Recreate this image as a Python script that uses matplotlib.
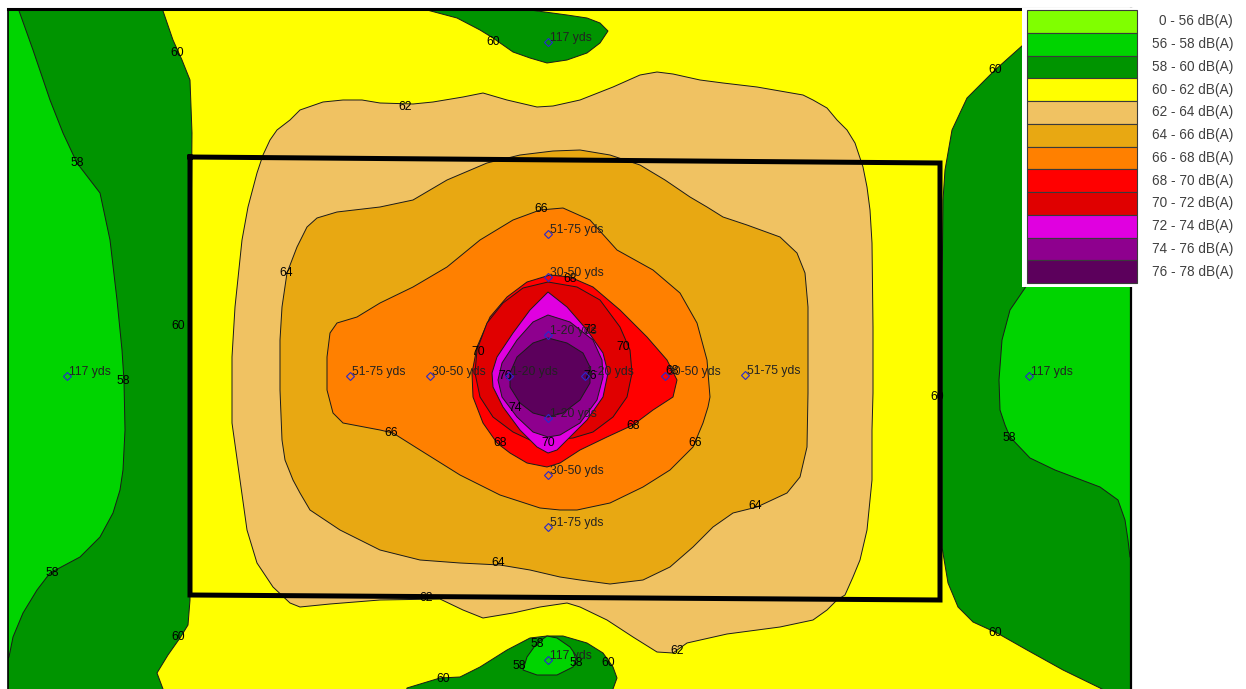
import matplotlib
matplotlib.use("Agg")
import matplotlib.pyplot as plt
from matplotlib.patches import Polygon

# noise bands (legend)
band_labels = ['0 - 56 dB(A)', '56 - 58 dB(A)', '58 - 60 dB(A)', '60 - 62 dB(A)',
               '62 - 64 dB(A)', '64 - 66 dB(A)', '66 - 68 dB(A)', '68 - 70 dB(A)',
               '70 - 72 dB(A)', '72 - 74 dB(A)', '74 - 76 dB(A)', '76 - 78 dB(A)']
band_colors = ['#80FF00', '#00D400', '#009400', '#FFFF00', '#F0C262', '#E8A812',
               '#FF8000', '#FF0000', '#E00000', '#E000E0', '#8E008E', '#5C005C']

# isolines (plan units, x right / y down)
iso60_left = [(150, -20), (162, 8), (173, 40), (182, 60), (190, 80), (192, 133), (191, 250),
              (191, 400), (190, 520), (190, 600), (188, 625), (180, 638), (168, 655),
              (157, 673), (163, 689), (168, 720), (-30, 720), (-30, -20)]
iso58_left = [(15, -20), (18, 8), (33, 50), (50, 100), (63, 133), (77, 163), (100, 193),
              (110, 240), (117, 300), (122, 350), (124, 381), (125, 430), (123, 470),
              (120, 490), (113, 513), (100, 537), (80, 557), (50, 573), (37, 590), (23, 613),
              (13, 637), (9, 657), (-30, 690), (-30, -20)]
iso60_right = [(1065, -20), (1055, 8), (1040, 25), (1023, 45), (995, 70), (967, 98), (952, 130),
               (945, 170), (943, 200), (942, 300), (942, 450), (942, 547), (948, 583),
               (958, 607), (973, 622), (997, 633), (1027, 650), (1063, 670), (1100, 688),
               (1140, 710), (1180, 710), (1180, -20)]
iso58_right = [(1180, 140), (1110, 170), (1070, 210), (1045, 250), (1025, 288), (1010, 310),
               (1002, 340), (999, 380), (1000, 410), (1005, 425), (1010, 437), (1030, 458),
               (1055, 470), (1100, 487), (1118, 500), (1125, 520), (1128, 540), (1130, 557),
               (1180, 580)]
iso60_top = [(420, -20), (427, 10), (457, 18), (480, 30), (493, 38), (513, 52), (530, 58),
             (547, 63), (567, 60), (587, 53), (600, 43), (608, 31), (600, 23), (587, 18),
             (567, 15), (530, 10), (535, -20)]
iso60_bottom = [(400, 720), (407, 688), (440, 678), (460, 677), (480, 667), (507, 650),
                (530, 638), (547, 636), (563, 636), (587, 643), (603, 653), (613, 667),
                (617, 678), (613, 689), (613, 720)]
iso58_bottom = [(547, 636), (537, 643), (527, 657), (523, 670), (537, 675), (557, 675),
                (573, 667), (577, 657), (570, 647), (557, 638)]
iso62 = [(263, 155), (257, 173), (248, 207), (242, 240), (235, 307), (232, 357), (232, 423),
         (240, 480), (247, 530), (257, 563), (273, 587), (290, 603), (300, 607), (330, 604),
         (380, 600), (440, 599), (463, 610), (483, 618), (513, 613), (540, 607), (567, 603),
         (580, 607), (607, 620), (633, 637), (657, 652), (673, 653), (687, 643), (727, 634),
         (780, 627), (813, 620), (827, 610), (837, 600), (845, 595), (853, 577), (860, 560),
         (867, 530), (872, 480), (872, 430), (873, 393), (873, 327), (872, 243), (870, 210),
         (867, 187), (863, 167), (860, 158), (855, 143), (847, 130), (837, 120), (827, 108),
         (813, 100), (803, 95), (780, 91), (757, 87), (723, 83), (700, 80), (673, 74),
         (657, 72), (640, 75), (613, 87), (580, 100), (553, 106), (537, 107), (507, 100),
         (483, 93), (463, 97), (433, 102), (413, 104), (380, 103), (362, 100), (343, 100),
         (323, 102), (300, 110), (290, 120), (277, 130), (270, 140)]
iso64 = [(487, 163), (520, 155), (553, 151), (580, 150), (610, 155), (640, 165), (665, 180),
         (690, 197), (707, 207), (723, 217), (747, 225), (780, 237), (797, 253), (805, 273),
         (808, 307), (808, 393), (807, 447), (800, 477), (787, 493), (757, 507), (733, 513),
         (713, 527), (693, 547), (670, 567), (643, 580), (610, 584), (580, 580), (560, 577),
         (530, 570), (500, 565), (460, 563), (420, 560), (380, 550), (340, 530), (310, 510),
         (300, 493), (293, 480), (285, 460), (282, 440), (280, 390), (280, 340), (282, 307),
         (287, 273), (297, 247), (307, 227), (317, 218), (337, 212), (380, 207), (413, 200),
         (447, 180)]
iso66 = [(513, 220), (540, 210), (563, 208), (590, 220), (617, 250), (653, 270), (680, 293),
         (697, 323), (707, 360), (710, 397), (708, 407), (703, 423), (693, 447), (670, 470),
         (643, 487), (610, 503), (577, 510), (560, 510), (540, 508), (500, 495), (460, 475),
         (420, 450), (393, 433), (380, 430), (343, 423), (333, 413), (327, 390), (327, 357),
         (330, 333), (337, 323), (357, 317), (380, 303), (413, 287), (447, 267), (480, 240)]
iso68 = [(550, 275), (570, 277), (593, 287), (620, 310), (647, 337), (667, 360), (677, 380),
         (673, 397), (653, 410), (633, 425), (607, 437), (580, 450), (560, 463), (547, 467),
         (527, 463), (510, 453), (497, 443), (483, 423), (473, 397), (472, 373), (477, 347),
         (490, 317), (507, 297), (527, 282)]
iso70 = [(548, 282), (577, 287), (600, 300), (620, 327), (630, 350), (632, 373), (627, 397),
         (613, 417), (593, 432), (573, 438), (553, 440), (530, 440), (513, 432), (493, 417),
         (480, 397), (475, 373), (477, 350), (487, 323), (503, 303), (523, 288)]
iso72 = [(548, 292), (567, 307), (587, 330), (603, 353), (608, 373), (603, 397), (587, 420),
         (570, 437), (557, 450), (548, 453), (537, 447), (520, 430), (503, 407), (493, 387),
         (492, 373), (497, 357), (513, 333), (530, 310)]
iso74 = [(548, 315), (570, 322), (593, 340), (602, 360), (603, 377), (597, 400), (580, 423),
         (560, 435), (548, 437), (533, 432), (517, 417), (502, 397), (498, 380), (502, 363),
         (517, 340), (533, 322)]
iso76 = [(548, 338), (567, 343), (583, 353), (590, 367), (590, 383), (580, 400), (563, 413),
         (548, 417), (533, 413), (520, 403), (510, 387), (510, 373), (517, 357), (533, 343)]

# contour level labels
level_text = ['60', '58', '60', '58', '58', '60', '60', '62', '64', '66', '68', '72', '70', '70',
              '76', '76', '68', '74', '68', '70', '68', '66', '66', '64', '64', '62', '62',
              '58', '58', '58', '60', '60', '60', '60', '58', '60']
level_x = [177, 77, 178, 123, 52, 178, 493, 405, 286, 541, 570, 590, 478, 623,
           505, 590, 672, 515, 500, 548, 633, 391, 695, 755, 498, 426, 677,
           537, 519, 576, 608, 443, 995, 937, 1009, 995]
level_y = [53, 163, 326, 381, 573, 637, 42, 107, 273, 209, 279, 330, 352, 347,
           376, 376, 371, 408, 443, 443, 426, 433, 443, 506, 563, 598, 651,
           644, 666, 663, 663, 679, 70, 397, 438, 633]

# receptor points
rec_x = [548, 67, 1029, 548, 350, 430, 509, 585, 665, 745, 548, 548, 548, 548, 548, 548]
rec_y = [42, 376, 376, 660, 376, 376, 376, 376, 376, 375, 234, 277, 335, 418, 475, 527]
rec_text = ['117 yds', '117 yds', '117 yds', '117 yds', '51-75 yds', '30-50 yds', '1-20 yds',
            '1-20 yds', '30-50 yds', '51-75 yds', '51-75 yds', '30-50 yds', '1-20 yds',
            '1-20 yds', '30-50 yds', '51-75 yds']

# site boundary
site_x = [190, 940, 940, 190, 190]
site_y = [157, 163, 600, 595, 157]

W, H = 1246, 689
fig = plt.figure(figsize=(W / 100, H / 100), dpi=100)
ax = fig.add_axes([8 / W, 0, (1131 - 8) / W, (H - 9) / H])
ax.set_xlim(8, 1131)
ax.set_ylim(689, 9)
ax.set_facecolor(band_colors[3])
ax.set_xticks([])
ax.set_yticks([])
ax.spines['bottom'].set_visible(False)
ax.spines['top'].set_linewidth(2.2)
ax.spines['left'].set_linewidth(1.2)
ax.spines['right'].set_linewidth(1.6)

layers = [(iso60_left, 2), (iso58_left, 1), (iso60_right, 2), (iso58_right, 1),
          (iso60_top, 2), (iso60_bottom, 2), (iso58_bottom, 1),
          (iso62, 4), (iso64, 5), (iso66, 6), (iso68, 7), (iso70, 8),
          (iso72, 9), (iso74, 10), (iso76, 11)]
for pts, ci in layers:
    ax.add_patch(Polygon(pts, closed=True, facecolor=band_colors[ci],
                         edgecolor='#1a1a1a', linewidth=0.7, zorder=2))

for t, x, y in zip(level_text, level_x, level_y):
    ax.text(x, y, t, ha='center', va='center', fontsize=8.8, family='Liberation Sans',
            color='black', zorder=4)

ax.plot(rec_x, rec_y, linestyle='none', marker='D', markersize=4.5, markerfacecolor='none',
        markeredgecolor='#2828d0', markeredgewidth=0.8, zorder=5)
for t, x, y in zip(rec_text, rec_x, rec_y):
    ax.text(x + 2, y - 1, t, ha='left', va='baseline', fontsize=8.7,
            family='Liberation Sans', color='#222222', zorder=5)

ax.plot(site_x, site_y, color='black', linewidth=3.6, solid_joinstyle='miter', zorder=6)

# legend
lx0, lx1, ly0, ly1 = 1022, 1139, 8, 287
leg = fig.add_axes([lx0 / W, 1 - ly1 / H, (lx1 - lx0) / W, (ly1 - ly0) / H])
leg.set_facecolor('white')
for s in leg.spines.values():
    s.set_visible(False)
leg.set_xticks([])
leg.set_yticks([])
row = 22.75
leg.barh(range(len(band_colors)), 1, left=0, height=1, color=band_colors,
         edgecolor='#3a3a3a', linewidth=0.8)
leg.set_xlim(-5 / 110, 1 + 2 / 110)
leg.set_ylim((ly1 - 10) / row - 0.5, (ly0 - 10) / row - 0.5)
for i, lab in enumerate(band_labels):
    fig.text(1233 / W, 1 - (10 + row * (i + 0.5)) / H, lab, ha='right', va='center',
             fontsize=9.8, family='Liberation Sans', color='#404040')

fig.savefig('out.png', dpi=100)
